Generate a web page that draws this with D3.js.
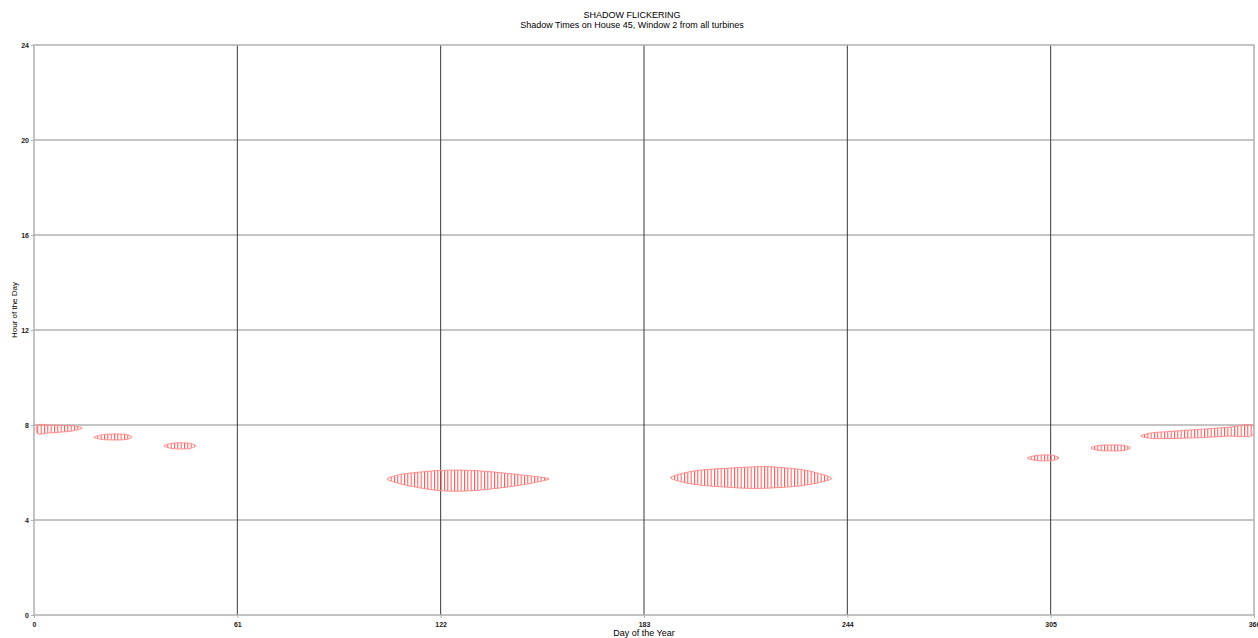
<!DOCTYPE html>
<html>
<head>
<meta charset="utf-8">
<script src="https://cdn.jsdelivr.net/npm/d3@7"></script>
<style>
  html, body { margin: 0; padding: 0; background: #ffffff; }
  svg { display: block; font-family: "Liberation Sans", Arial, sans-serif; }
</style>
</head>
<body>
<svg id="chart" width="1258" height="638"></svg>
<script>
// ---- data ----
const chartTitle = "SHADOW FLICKERING";
const chartSubtitle = "Shadow Times on House 45, Window 2 from all turbines";
const xAxisTitle = "Day of the Year";
const yAxisTitle = "Hour of the Day";
const xTicks = [0, 61, 122, 183, 244, 305, 366];
const yTicks = [0, 4, 8, 12, 16, 20, 24];

// each shadow period: [day, latest hour (top), earliest hour (bottom)]
const period1 = [[1, 8.0, 7.64], [4, 8.0, 7.66], [8, 7.98, 7.70], [12, 7.96, 7.76], [14.5, 7.87, 7.87]];
const period2 = [[18, 7.48, 7.48], [20, 7.58, 7.40], [24, 7.62, 7.37], [28, 7.59, 7.40], [29.4, 7.49, 7.49]];
const period3 = [[39, 7.12, 7.12], [41, 7.22, 7.02], [44, 7.25, 6.99], [47, 7.22, 7.02], [48.5, 7.12, 7.12]];
const period4 = [[106, 5.73, 5.73], [110, 5.92, 5.52], [114, 5.99, 5.40], [120, 6.07, 5.26], [126, 6.10, 5.21], [132, 6.08, 5.24], [138, 6.02, 5.32], [146, 5.90, 5.47], [151, 5.82, 5.60], [154.5, 5.73, 5.73]];
const period5 = [[191, 5.78, 5.78], [195, 5.98, 5.58], [200, 6.10, 5.47], [208, 6.18, 5.38], [215, 6.23, 5.33], [220, 6.25, 5.34], [225, 6.20, 5.38], [230, 6.13, 5.44], [235, 5.98, 5.56], [239.3, 5.75, 5.75]];
const period6 = [[298, 6.61, 6.61], [300, 6.70, 6.52], [303, 6.74, 6.49], [306, 6.71, 6.52], [307.5, 6.62, 6.62]];
const period7 = [[317, 7.03, 7.03], [319, 7.13, 6.94], [323, 7.16, 6.91], [327, 7.14, 6.93], [329, 7.04, 7.04]];
const period8 = [[332, 7.54, 7.54], [335, 7.66, 7.44], [340, 7.72, 7.43], [350, 7.82, 7.47], [358, 7.90, 7.53], [365.7, 7.97, 7.58]];
const periods = [period1, period2, period3, period4, period5, period6, period7, period8];

// ---- layout ----
const svg = d3.select("#chart");
const W = 1258, H = 638;
const mLeft = 34, mRight = 1254, mTop = 45, mBottom = 615;

const x = d3.scaleLinear().domain([0, 366]).range([mLeft, mRight]);
const y = d3.scaleLinear().domain([0, 24]).range([mBottom, mTop]);

svg.append("rect").attr("width", W).attr("height", H).attr("fill", "#ffffff");

const defs = svg.append("defs");
// hatch pattern: one vertical line per day
const dayW = x(1) - x(0);
const pat = defs.append("pattern")
  .attr("id", "hatch")
  .attr("patternUnits", "userSpaceOnUse")
  .attr("x", x(0)).attr("y", 0)
  .attr("width", dayW).attr("height", 10);
pat.append("line")
  .attr("x1", 0.5).attr("x2", 0.5).attr("y1", 0).attr("y2", 10)
  .attr("stroke", "#ff5050").attr("stroke-width", 1);
defs.append("clipPath").attr("id", "plotclip").append("rect")
  .attr("x", mLeft).attr("y", mTop).attr("width", mRight - mLeft).attr("height", mBottom - mTop);

// gridlines
const grid = svg.append("g");
grid.selectAll("line.h").data(yTicks.filter(d => d > 0 && d < 24)).join("line")
  .attr("x1", mLeft).attr("x2", mRight)
  .attr("y1", d => y(d)).attr("y2", d => y(d))
  .attr("stroke", "#8a8a8a").attr("stroke-width", 1);
grid.selectAll("line.v").data(xTicks.filter(d => d > 0 && d < 366)).join("line")
  .attr("x1", d => x(d)).attr("x2", d => x(d))
  .attr("y1", mTop).attr("y2", mBottom)
  .attr("stroke", "#3a3a3a").attr("stroke-width", 1);

// frame
svg.append("rect")
  .attr("x", mLeft).attr("y", mTop)
  .attr("width", mRight - mLeft).attr("height", mBottom - mTop)
  .attr("fill", "none").attr("stroke", "#b0b0b0").attr("stroke-width", 1.5);

// shadow periods: closed outline = top edge left→right, then bottom edge right→left
function outline(p) {
  const pts = [];
  p.forEach(d => pts.push([x(d[0]), y(d[1])]));
  for (let i = p.length - 1; i >= 0; i--) {
    const d = p[i];
    if (d[1] !== d[2]) pts.push([x(d[0]), y(d[2])]);
  }
  return pts;
}
const line = d3.line().curve(d3.curveCatmullRomClosed.alpha(0.5));

svg.append("g").attr("clip-path", "url(#plotclip)")
  .selectAll("path").data(periods).join("path")
  .attr("d", p => line(outline(p)))
  .attr("fill", "url(#hatch)")
  .attr("stroke", "#ff8c8c")
  .attr("stroke-width", 1);

// axes
const xAxis = d3.axisBottom(x).tickValues(xTicks).tickSize(3).tickFormat(d3.format("d"));
const gx = svg.append("g").attr("transform", `translate(0,${mBottom})`).call(xAxis);
const yAxis = d3.axisLeft(y).tickValues(yTicks).tickSize(3).tickFormat(d3.format("d"));
const gy = svg.append("g").attr("transform", `translate(${mLeft},0)`).call(yAxis);
[gx, gy].forEach(g => {
  g.select(".domain").remove();
  g.selectAll(".tick line").attr("stroke", "#b0b0b0");
  g.selectAll(".tick text")
    .attr("font-family", "Liberation Sans, Arial, sans-serif")
    .attr("font-size", 7).attr("font-weight", "bold").attr("fill", "#222");
});
gx.selectAll(".tick text").attr("dy", "0.9em");
gy.selectAll(".tick text").attr("x", -5);

// titles
svg.append("text").attr("x", 632).attr("y", 18)
  .attr("text-anchor", "middle").attr("font-size", 9).attr("fill", "#000")
  .text(chartTitle);
svg.append("text").attr("x", 632).attr("y", 28)
  .attr("text-anchor", "middle").attr("font-size", 9).attr("fill", "#000")
  .text(chartSubtitle);
svg.append("text").attr("x", 644).attr("y", 636)
  .attr("text-anchor", "middle").attr("font-size", 9).attr("fill", "#000")
  .text(xAxisTitle);
svg.append("text")
  .attr("transform", `translate(17,${(mTop + mBottom) / 2 - 20}) rotate(-90)`)
  .attr("text-anchor", "middle").attr("font-size", 8).attr("fill", "#000")
  .text(yAxisTitle);
</script>
</body>
</html>
